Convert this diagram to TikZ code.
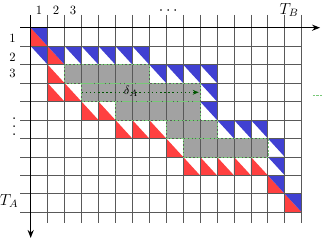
\documentclass[tikz,border=0pt]{standalone}
\usetikzlibrary{arrows.meta}
\definecolor{cellred}{RGB}{255,64,64}
\definecolor{cellblue}{RGB}{64,64,210}
\definecolor{cellgrey}{RGB}{162,162,162}
\definecolor{bordergreen}{RGB}{120,200,120}
\definecolor{shiftgreen}{RGB}{0,85,0}
\newcommand{\myvdots}{\vbox{\baselineskip=6.3pt\lineskiplimit=0pt\hbox{.}\hbox{.}\hbox{.}}}
\begin{document}
\begin{tikzpicture}[x=12.705pt, y=-13.845pt,
  gridline/.style={black!65, line width=0.6pt},
  axisline/.style={black, line width=1.1pt, -{Stealth[length=6pt,width=4.6pt]}},
  greyrun/.style={fill=cellgrey},
  greyborder/.style={draw=bordergreen, line width=0.5pt, dash pattern=on 1.6pt off 1.2pt},
  lbl/.style={font=\fontsize{9.5}{11}\selectfont, inner sep=0pt},
  axlbl/.style={font=\large, inner sep=0pt},
  shiftarrow/.style={shiftgreen, line width=1.1pt, dotted, -{Stealth[length=4.5pt,width=3.6pt]}}]
\useasboundingbox (-1.812,-1.5005) rectangle (17.373,11.50);
% grey runs
\foreach \r/\a/\b in {3/2/7, 4/3/10, 5/5/10, 6/8/11, 7/9/14}
  \fill[greyrun] (\a,\r-1) rectangle (\b,\r);
% red halves (lower-left)
\foreach \c/\r in {1/1, 2/2, 2/3, 2/4, 3/4, 4/5, 5/5, 6/6, 7/6, 8/6, 9/7, 10/8, 11/8, 12/8, 13/8, 14/8, 15/9, 16/10}
  \fill[cellred] (\c-1,\r-1) -- (\c-1,\r) -- (\c,\r) -- cycle;
% blue halves (upper-right)
\foreach \c/\r in {1/1, 1/2, 2/2, 3/2, 4/2, 5/2, 6/2, 7/2, 8/3, 9/3, 10/3, 11/3, 11/4, 11/5, 12/6, 13/6, 14/6, 15/7, 15/8, 15/9, 16/10}
  \fill[cellblue] (\c-1,\r-1) -- (\c,\r-1) -- (\c,\r) -- cycle;
% grid
\foreach \i in {1,...,16}
  \draw[gridline] (\i,-0.69) -- (\i,10.58);
\foreach \j in {1,...,10}
  \draw[gridline] (-0.63,\j) -- (16,\j);
% green dashed borders of grey runs
\foreach \r/\a/\b in {3/2/7, 4/3/10, 5/5/10, 6/8/11, 7/9/14}
  \draw[greyborder] (\a,\r-1) rectangle (\b,\r);
\draw[greyborder] (16.65,3.65) -- (17.25,3.65);
% axes
\coordinate (hstart) at (-0.63,0);
\coordinate (hend) at (17.08,0);
\coordinate (vstart) at (0,-0.69);
\coordinate (vend) at (0,11.39);
\draw[axisline] (hstart) -- (hend);
\draw[axisline] (vstart) -- (vend);
% shift arrow
\coordinate (sstart) at (3,3.5);
\coordinate (send) at (9.92,3.5);
\draw[shiftarrow] (sstart) -- (send);
\node[lbl] (delta) at (5.92,3.45) {$\delta_A$};
% labels
\node[lbl] (col1) at (0.5,-0.96) {1};
\node[lbl] (col2) at (1.5,-0.96) {2};
\node[lbl] (col3) at (2.5,-0.96) {3};
\node[axlbl] (coldots) at (8.12,-0.93) {$\cdots$};
\node[axlbl] (tb) at (15.25,-0.96) {$T_B$};
\node[lbl] (row1) at (-1.07,0.58) {1};
\node[lbl] (row2) at (-1.07,1.58) {2};
\node[lbl] (row3) at (-1.07,2.48) {3};
\node[font=\fontsize{13}{15}\selectfont, inner sep=0pt] (rowdots) at (-0.97,5.36) {\myvdots};
\node[axlbl] (ta) at (-1.28,9.39) {$T_A$};
\end{tikzpicture}
\end{document}
